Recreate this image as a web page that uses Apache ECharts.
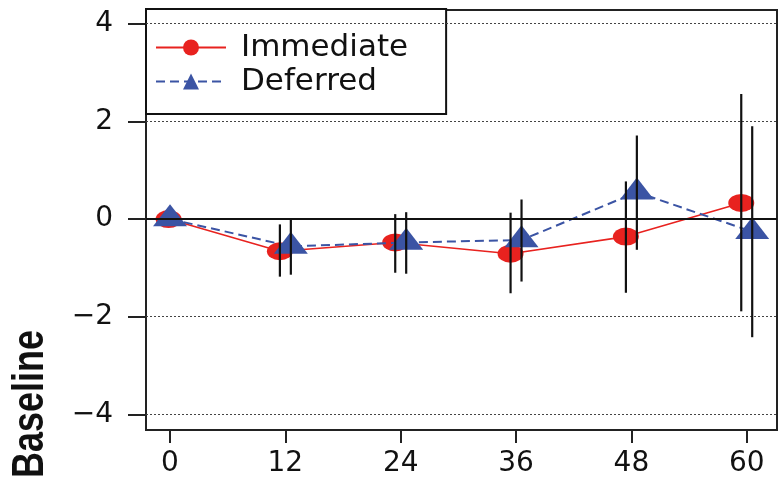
<!DOCTYPE html>
<html>
<head>
<meta charset="utf-8">
<script src="https://cdn.jsdelivr.net/npm/echarts@6/dist/echarts.min.js"></script>
<style>
  html, body { margin: 0; padding: 0; background: #fff; }
  #chart { width: 779px; height: 478px; }
</style>
</head>
<body>
<div id="chart"></div>
<script>
// ---- data ----
const months = [0, 12, 24, 36, 48, 60];
const yTicks = [-4, -2, 0, 2, 4];
const immediateX = [-0.15, 11.43, 23.43, 35.43, 47.43, 59.43];
const deferredX = [0, 12.57, 24.57, 36.57, 48.57, 60.57];
const immediateMean = [0, -0.66, -0.48, -0.71, -0.36, 0.33];
const immediateLow = [0, -1.18, -1.10, -1.52, -1.51, -1.89];
const immediateHigh = [0, -0.11, 0.10, 0.13, 0.77, 2.56];
const deferredMean = [0, -0.56, -0.48, -0.43, 0.55, -0.26];
const deferredLow = [0, -1.14, -1.12, -1.28, -0.63, -2.42];
const deferredHigh = [0, 0.0, 0.14, 0.40, 1.71, 1.90];
const gridLines = [-4, -2, 2, 4];
const seriesNames = ['Immediate', 'Deferred'];
const yAxisTitle = 'Baseline';

const FONT = 'DejaVu Sans';
const RED = '#E8221F';
const BLUE = '#3B54A4';

function zip(xs, ys) { return xs.map((x, i) => [x, ys[i]]); }
function bars(xs, lo, hi) { return xs.map((x, i) => [x, lo[i], hi[i]]); }

const errorRender = function (params, api) {
  const x = api.value(0);
  const p1 = api.coord([x, api.value(1)]);
  const p2 = api.coord([x, api.value(2)]);
  return {
    type: 'line',
    shape: { x1: p1[0], y1: p1[1], x2: p2[0], y2: p2[1] },
    style: { stroke: '#111', lineWidth: 2.2 }
  };
};

const chart = echarts.init(document.getElementById('chart'), null, { renderer: 'canvas' });
chart.setOption({
  animation: false,
  backgroundColor: '#fff',
  grid: {
    left: 146, right: 2, top: 10, bottom: 43,
    show: true, borderColor: '#222', borderWidth: 2, backgroundColor: 'transparent'
  },
  xAxis: {
    type: 'value', min: -2.5, max: 63.15,
    axisLine: { show: true, onZero: false, lineStyle: { color: '#222', width: 2 } },
    axisTick: { show: true, customValues: months, length: 13, lineStyle: { color: '#222', width: 2 } },
    axisLabel: { customValues: months, margin: 20, fontFamily: FONT, fontSize: 28, color: '#111' },
    splitLine: { show: false }
  },
  yAxis: {
    type: 'value', min: -4.32, max: 4.28,
    axisLine: { show: true, onZero: false, lineStyle: { color: '#222', width: 2 } },
    axisTick: { show: true, customValues: yTicks, length: 18, lineStyle: { color: '#222', width: 2 } },
    axisLabel: {
      customValues: yTicks, margin: 33, fontFamily: FONT, fontSize: 28, color: '#111',
      formatter: v => (v < 0 ? '\u2212' + Math.abs(v) : String(v))
    },
    splitLine: { show: false }
  },
  legend: {
    data: seriesNames,
    orient: 'vertical',
    left: 146, top: 9,
    itemWidth: 70, itemHeight: 20, itemGap: 3,
    padding: [23, 38, 17, 9],
    backgroundColor: '#fff', borderColor: '#111', borderWidth: 2, borderRadius: 0,
    textStyle: { fontFamily: FONT, fontSize: 31, lineHeight: 31, color: '#111', padding: [0, 0, 0, 10] }
  },
  graphic: [{
    type: 'text',
    x: 31, y: 478,
    rotation: Math.PI / 2,
    scaleY: 1.25,
    style: {
      text: yAxisTitle,
      fontFamily: 'Liberation Sans', fontWeight: 'bold', fontSize: 36,
      fill: '#111', textAlign: 'left', textVerticalAlign: 'middle'
    }
  }],
  series: [
    {
      name: 'Immediate', type: 'line', z: 3,
      data: zip(immediateX, immediateMean),
      symbol: 'path://M0,9 A13,9 0 1,1 26,9 A13,9 0 1,1 0,9 Z',
      symbolSize: [26, 18],
      itemStyle: { color: RED },
      lineStyle: { color: RED, width: 1.6, type: 'solid' },
      markLine: {
        silent: true, symbol: ['none', 'none'], label: { show: false },
        data: gridLines.map(v => ({ yAxis: v, lineStyle: { color: '#444', width: 1.2, type: [2, 2] } }))
          .concat([{ yAxis: 0, lineStyle: { color: '#111', width: 1.8, type: 'solid' } }])
      }
    },
    {
      name: 'Deferred', type: 'line', z: 4,
      data: zip(deferredX, deferredMean),
      symbol: 'triangle',
      symbolSize: [34, 22],
      symbolOffset: [0, -3.7],
      itemStyle: { color: BLUE },
      lineStyle: { color: BLUE, width: 2, type: [9, 5] }
    },
    {
      name: 'Immediate bars', type: 'custom', z: 6, silent: true,
      renderItem: errorRender, encode: { x: 0, y: [1, 2] },
      data: bars(immediateX, immediateLow, immediateHigh)
    },
    {
      name: 'Deferred bars', type: 'custom', z: 6, silent: true,
      renderItem: errorRender, encode: { x: 0, y: [1, 2] },
      data: bars(deferredX, deferredLow, deferredHigh)
    }
  ]
});
</script>
</body>
</html>
